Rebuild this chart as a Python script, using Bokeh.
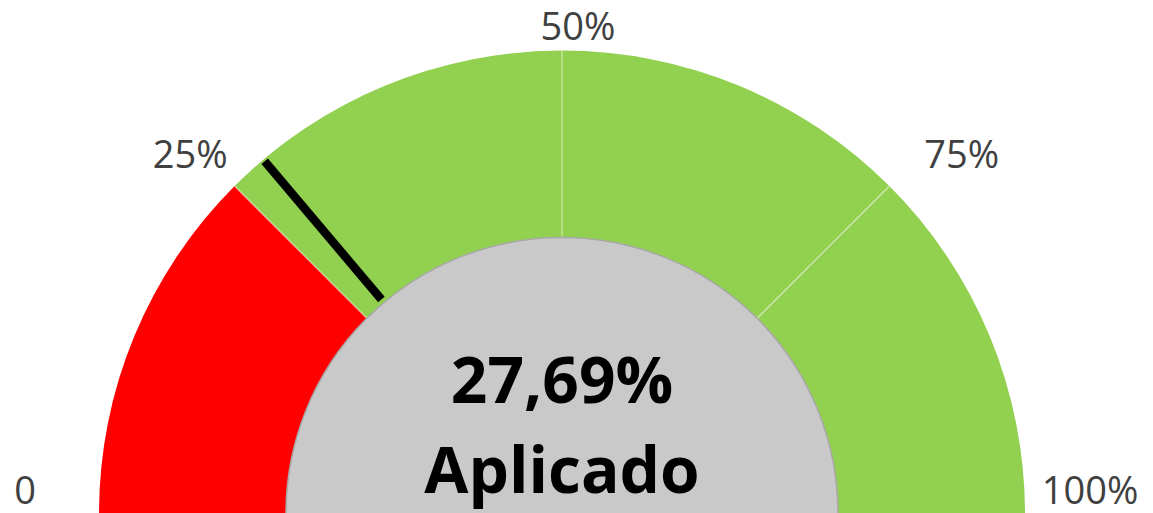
import numpy as np
from bokeh.plotting import figure
from bokeh.models import ColumnDataSource, Range1d
from bokeh.core.properties import value
from bokeh.embed import file_html
from bokeh.resources import INLINE

# ---- data ----
band_starts = [0, 25, 50, 75]
band_ends = [25, 50, 75, 100]
band_colors = ["#FF0000", "#92D050", "#92D050", "#92D050"]
gauge_value = 27.69
value_label = "27,69%"
caption = "Aplicado"
tick_values = [0, 25, 50, 75, 100]
tick_labels = ["0", "25%", "50%", "75%", "100%"]

# ---- layout (pixel-like data units) ----
CX, CY = 561.5, 0.0
R_OUT, R_IN = 463.0, 276.0
R_LABEL = 520.0
label_dx = [-17, -4, 16, 32, 8]
label_dy = [-24, 7, 31, 7, -25]


def ang(v):
    return np.pi * (1.0 - np.asarray(v, dtype=float) / 100.0)


p = figure(width=1153, height=513, x_range=Range1d(0, 1153), y_range=Range1d(0, 513),
           output_backend="svg", toolbar_location=None, min_border=0)
p.axis.visible = False
p.grid.visible = False
p.outline_line_color = None
p.background_fill_color = "white"
p.border_fill_color = "white"

bands = ColumnDataSource(dict(
    x=[CX] * len(band_starts), y=[CY] * len(band_starts),
    start=ang(band_ends), end=ang(band_starts), color=band_colors))
p.annular_wedge(x="x", y="y", inner_radius=R_IN - 5, outer_radius=R_OUT,
                start_angle="start", end_angle="end", fill_color="color",
                line_color=None, source=bands)

# divider lines between bands
div_a = ang(band_starts[1:])
p.segment(x0=CX + (R_IN - 5) * np.cos(div_a), y0=CY + (R_IN - 5) * np.sin(div_a),
          x1=CX + R_OUT * np.cos(div_a), y1=CY + R_OUT * np.sin(div_a),
          line_color="white", line_alpha=0.4, line_width=1.6)

# needle
na = float(ang(gauge_value))
p.segment(x0=[CX + 280 * np.cos(na)], y0=[CY + 280 * np.sin(na)],
          x1=[CX + 461 * np.cos(na)], y1=[CY + 461 * np.sin(na)],
          line_color="black", line_width=8.5, line_cap="butt")

# center disc
p.circle(x=[CX], y=[CY], radius=R_IN, fill_color="#C9C9C9",
         line_color="#A8A8A8", line_width=1.5)

# tick labels
ta = ang(tick_values)
labels = ColumnDataSource(dict(
    x=CX + R_LABEL * np.cos(ta), y=CY + R_LABEL * np.sin(ta),
    text=tick_labels, dx=label_dx, dy=label_dy))
p.text(x="x", y="y", text="text", x_offset="dx", y_offset="dy", source=labels,
       text_font=value("Open Sans"), text_font_size="38px", text_color="#404040",
       text_align="center", text_baseline="middle")

# center texts
p.text(x=[CX], y=[135], text=[value_label], text_font=value("Open Sans"),
       text_font_size="64px", text_font_style="bold", text_color="black",
       text_align="center", text_baseline="alphabetic")
p.text(x=[CX], y=[45], text=[caption], text_font=value("Open Sans"),
       text_font_size="64px", text_font_style="bold", text_color="black",
       text_align="center", text_baseline="alphabetic")

open("out.html", "w").write(file_html(p, INLINE))
